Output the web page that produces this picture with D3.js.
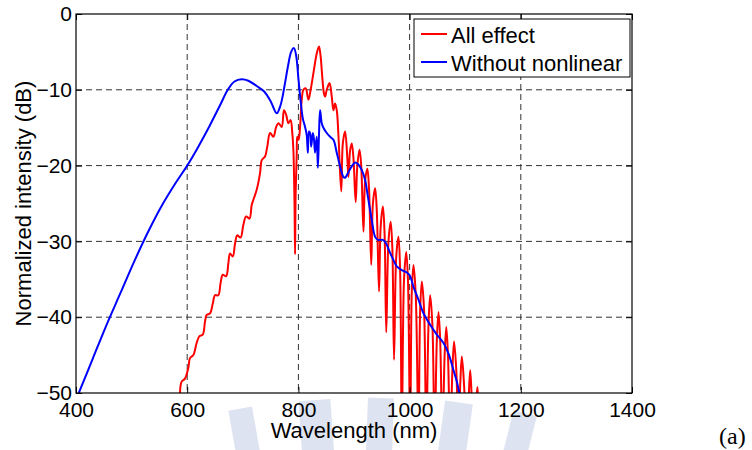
<!DOCTYPE html>
<html><head><meta charset="utf-8">
<script src="https://cdn.jsdelivr.net/npm/d3@7"></script>
<style>body{margin:0;background:#fff}</style>
</head><body>
<svg id="c" width="752" height="450"></svg>
<script>
const xTicks=[400,600,800,1000,1200,1400];
const yTicks=[0,-10,-20,-30,-40,-50];
const seriesNames=["All effect","Without nonlinear"];
const seriesColors=["#ff0000","#0000ff"];
const xLabel="Wavelength (nm)";
const yLabel="Normalized intensity (dB)";
const panelTag="(a)";

// All effect (wavelength nm, dB)
const allEffect=[[587,-50],[590,-48.5],[596,-48.1],[602,-46.7],[605,-45.4],[611,-45],[617,-43.4],[622,-42.5],[628,-42.3],[632,-40.6],[635,-39.7],[641,-39.5],[646,-38.2],[650,-37.1],[656,-37.1],[660,-35.5],[664,-34.4],[670,-34.6],[674,-32.9],[677,-31.6],[682,-32],[686,-30.3],[690,-29.2],[696,-29.5],[701,-27.8],[706,-26.7],[712,-27],[716,-25.2],[719,-24.5],[725,-23.2],[731,-21],[734,-19.3],[740,-18.8],[744,-17.5],[749,-15.7],[755,-16.2],[760,-14.9],[764,-14.4],[770,-14.9],[774,-12.7],[778,-13.3],[782,-14.4],[786,-14],[789,-15.7],[791,-18],[793,-25],[794,-31.7],[795,-24],[797,-18.4],[798,-16.2],[800.5,-16.6],[803,-14.9],[806,-11.3],[809,-10],[813,-9.8],[818,-11.3],[822,-10],[827,-7.8],[833,-5.2],[837,-4.3],[840,-5.6],[842,-7.4],[846,-10.5],[848,-10.9],[851,-10],[856,-9.1],[860,-10.9],[863,-12.7],[866,-11.8],[869,-12.7],[872,-16],[877,-23.4],[880,-17],[884,-15.5],[888,-19],[890,-21.5],[893,-18],[896,-17.1],[899,-19],[903,-24.8],[906,-20],[910,-17.9],[913,-20],[917,-28.7],[920,-22],[924,-20.4],[927,-23],[931,-33.1],[934,-25],[938,-23],[941,-26],[945,-36.6],[948,-28],[952,-25.4],[955,-29],[958,-42],[962,-30],[966,-27.4],[969,-31],[972,-45.6],[976,-32],[980,-29.4],[983,-34],[986,-56],[990,-35],[994,-31.4],[997,-35],[1001,-56],[1004,-36.5],[1007,-33.1],[1011,-37],[1016,-56],[1019,-39],[1022,-35.3],[1026,-39],[1030,-56],[1034,-41],[1037,-37.1],[1041,-41],[1045,-56],[1049,-43],[1052,-39.3],[1055,-43],[1059,-56],[1063,-45],[1066,-41.3],[1069,-45],[1073,-56],[1077,-47],[1080,-43.2],[1084,-47],[1088,-56],[1091,-49],[1094,-45.2],[1098,-49],[1102,-56],[1106,-51],[1109,-47],[1112,-51],[1116,-56],[1119,-52],[1122,-49.2],[1125,-53],[1128,-58]];

// Without nonlinear (wavelength nm, dB)
const withoutNonlinear=[[405,-50],[430,-45.5],[455,-41],[480,-36.8],[505,-32.6],[530,-28.7],[555,-25.2],[580,-22.2],[600,-20],[620,-17.5],[640,-14.8],[660,-11.9],[673,-10],[685,-8.9],[698,-8.6],[710,-8.8],[725,-9.5],[738,-10.2],[750,-11.5],[761,-13.1],[768,-12],[775,-9.5],[781,-7],[787,-5],[792,-4.5],[796,-5.5],[800,-8.5],[804,-11.5],[808,-13.8],[812,-14.9],[815,-16],[817,-18.3],[819,-15.5],[821,-15.7],[823,-17.5],[826,-15.7],[828,-16.5],[830,-18.3],[833,-16.2],[835,-20.3],[837,-16],[839,-12.7],[842,-14.4],[845,-15],[851,-15.7],[857,-16.2],[863,-16.6],[869,-18.3],[875,-20.1],[881,-21.5],[884,-21.6],[889,-21],[896,-20.1],[902,-19.6],[907,-19.8],[914,-20.6],[920,-21.9],[925,-24.1],[932,-27.2],[938,-29.4],[943,-29.8],[952,-29.8],[958,-30.3],[962,-31],[968,-32],[977,-33.3],[986,-33.8],[995,-34.1],[1001,-34.6],[1007,-36],[1016,-37.7],[1025,-39.5],[1037,-41],[1049,-42.3],[1061,-43.4],[1070,-44.8],[1079,-47],[1085,-48.5],[1090,-50.2]];

const W=752,H=450;
const m={l:76,t:14,r:120,b:57};
const iw=W-m.l-m.r, ih=H-m.t-m.b;
const FONT='"Liberation Sans", Arial, Helvetica, sans-serif';

const svg=d3.select("#c");
svg.append("rect").attr("width",W).attr("height",H).attr("fill","#fff");

// faint watermark fragments at bottom (background decoration)
const wm=svg.append("g").attr("fill","#dde3f1");
const wmBars=[[236,408,24,45,-10],[302,400,32,52,-4],[366,398,26,55,2],[438,402,28,50,8],[503,412,24,42,14]];
wmBars.forEach(b=>wm.append("rect").attr("x",b[0]).attr("y",b[1]).attr("width",b[2]).attr("height",b[3])
  .attr("transform",`rotate(${b[4]},${b[0]+b[2]/2},${b[1]+b[3]})`));

const g=svg.append("g").attr("transform",`translate(${m.l},${m.t})`);
const x=d3.scaleLinear().domain([400,1400]).range([0,iw]);
const y=d3.scaleLinear().domain([-50,0]).range([ih,0]);

// grid
const grid=g.append("g").attr("stroke","#333").attr("stroke-width",1).attr("stroke-dasharray","6,4");
xTicks.slice(1,-1).forEach(t=>grid.append("line").attr("x1",x(t)).attr("x2",x(t)).attr("y1",0).attr("y2",ih));
yTicks.slice(1,-1).forEach(t=>grid.append("line").attr("y1",y(t)).attr("y2",y(t)).attr("x1",0).attr("x2",iw));

// clip
svg.append("defs").append("clipPath").attr("id","plotclip").append("rect").attr("width",iw).attr("height",ih);
const line=d3.line().x(d=>x(d[0])).y(d=>y(d[1])).curve(d3.curveCatmullRom.alpha(0.5));
const plot=g.append("g").attr("clip-path","url(#plotclip)");
plot.append("path").datum(allEffect).attr("d",line).attr("fill","none").attr("stroke",seriesColors[0]).attr("stroke-width",2).attr("stroke-linejoin","round");
plot.append("path").datum(withoutNonlinear).attr("d",line).attr("fill","none").attr("stroke",seriesColors[1]).attr("stroke-width",2).attr("stroke-linejoin","round");

// axes
const styleAxis=(sel,labels)=>{
  sel.select(".domain").remove();
  sel.selectAll(".tick line").attr("stroke","#000");
  sel.selectAll("text").attr("font-family",FONT).attr("font-size",21).attr("fill","#000");
  if(!labels) sel.selectAll("text").remove();
};
g.append("g").attr("transform",`translate(0,${ih})`)
  .call(d3.axisBottom(x).tickValues(xTicks).tickFormat(d3.format("d")).tickSizeInner(-6).tickSizeOuter(0).tickPadding(9))
  .call(s=>styleAxis(s,true));
g.append("g").call(d3.axisTop(x).tickValues(xTicks).tickSizeInner(-6).tickSizeOuter(0)).call(s=>styleAxis(s,false));
g.append("g")
  .call(d3.axisLeft(y).tickValues(yTicks).tickFormat(d3.format("d")).tickSizeInner(-6).tickSizeOuter(0).tickPadding(4))
  .call(s=>styleAxis(s,true));
g.append("g").attr("transform",`translate(${iw},0)`).call(d3.axisRight(y).tickValues(yTicks).tickSizeInner(-6).tickSizeOuter(0)).call(s=>styleAxis(s,false));

g.append("rect").attr("width",iw).attr("height",ih).attr("fill","none").attr("stroke","#000").attr("stroke-width",1.2);

// axis labels
svg.append("text").attr("x",m.l+iw/2).attr("y",438).attr("text-anchor","middle")
  .attr("font-family",FONT).attr("font-size",22).text(xLabel);
svg.append("text").attr("transform",`translate(31,${m.t+ih/2}) rotate(-90)`).attr("text-anchor","middle")
  .attr("font-family",FONT).attr("font-size",22).text(yLabel);
svg.append("text").attr("x",719).attr("y",444).attr("font-family",'"Liberation Serif","Times New Roman",serif')
  .attr("font-size",24).text(panelTag);

// legend
const lg=svg.append("g");
lg.append("rect").attr("x",414).attr("y",19).attr("width",216).attr("height",58).attr("fill","#fff").attr("stroke","#000").attr("stroke-width",1);
seriesNames.forEach((n,i)=>{
  const yy=34+i*28;
  lg.append("line").attr("x1",421).attr("x2",447).attr("y1",yy).attr("y2",yy).attr("stroke",seriesColors[i]).attr("stroke-width",2);
  lg.append("text").attr("x",451).attr("y",yy+8.5).attr("font-family",FONT).attr("font-size",22).text(n);
});
</script>
</body></html>
